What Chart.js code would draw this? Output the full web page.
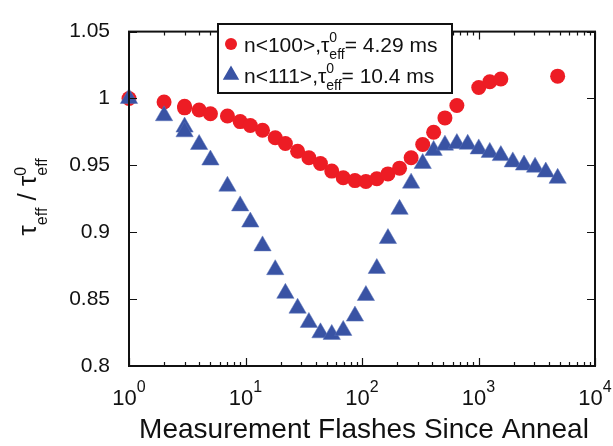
<!DOCTYPE html>
<html>
<head>
<meta charset="utf-8">
<script src="https://cdn.jsdelivr.net/npm/chart.js@4/dist/chart.umd.min.js"></script>
<style>
  html, body { margin: 0; padding: 0; background: #fff; }
</style>
</head>
<body>
<canvas id="chart" width="613" height="446"></canvas>
<script>
// n<100> sample (red circles)
var flashes100 = [1, 2, 3, 3, 4, 5, 7, 9, 11, 14, 18, 22, 28, 35, 44, 55, 69, 87, 108, 134, 167, 210, 264, 332, 412, 515, 652, 1005, 1250, 1555, 4780];
var tau100 = [1.000, 0.9974, 0.9942, 0.9930, 0.9914, 0.9886, 0.9869, 0.9827, 0.9798, 0.9763, 0.9706, 0.9663, 0.9606, 0.9557, 0.9514, 0.9457, 0.9407, 0.9386, 0.9379, 0.9400, 0.9436, 0.9479, 0.9557, 0.9656, 0.9748, 0.9855, 0.9947, 1.0082, 1.0125, 1.0146, 1.0167];

// n<111> sample (blue triangles)
var flashes111 = [1, 2, 3, 3, 4, 5, 7, 9, 11, 14, 18, 22, 28, 35, 44, 55, 69, 87, 108, 134, 167, 210, 264, 332, 412, 515, 652, 808, 1005, 1250, 1555, 1970, 2460, 3060, 3780, 4780];
var tau111 = [1.000, 0.9871, 0.9786, 0.9751, 0.9656, 0.9540, 0.9344, 0.9197, 0.9076, 0.8898, 0.8720, 0.8543, 0.8432, 0.8326, 0.8248, 0.8236, 0.8266, 0.8373, 0.8527, 0.8729, 0.8953, 0.9171, 0.9367, 0.9514, 0.9612, 0.9651, 0.9663, 0.9658, 0.9623, 0.9597, 0.9573, 0.9526, 0.9502, 0.9486, 0.9450, 0.9403];

var xDecades = [0, 1, 2, 3, 4];              // 10^0 .. 10^4
var yTicks = [0.8, 0.85, 0.9, 0.95, 1, 1.05];
var yTickLabels = ['0.8', '0.85', '0.9', '0.95', '1', '1.05'];

var legendLabels = [
  { name: 'n<100>,', value: '= 4.29 ms' },
  { name: 'n<111>,', value: '= 10.4 ms' }
];

var FONT = '"Liberation Sans", Arial, Helvetica, sans-serif';
var RED = '#ED1C24';
var BLUE = '#3953A4';

function toPoints(xs, ys) {
  var pts = [];
  for (let i = 0; i < xs.length; i++) pts.push({ x: xs[i], y: ys[i] });
  return pts;
}

// draws text pieces with sub/superscripts, returns end x
function drawRich(ctx, segs, x, y) {
  segs.forEach(function (s) {
    ctx.font = s.size + 'px ' + FONT;
    ctx.fillText(s.text, x, y + (s.dy || 0));
    if (!s.stack) x += ctx.measureText(s.text).width;
  });
  return x;
}

function richWidth(ctx, segs) {
  var w = 0;
  segs.forEach(function (s) {
    ctx.font = s.size + 'px ' + FONT;
    if (!s.stack) w += ctx.measureText(s.text).width;
  });
  return w;
}

var frame = {
  id: 'frame',
  afterDraw: function (chart) {
    var ctx = chart.ctx;
    var a = chart.chartArea;
    var xs = chart.scales.x, ys = chart.scales.y;
    ctx.save();
    ctx.strokeStyle = '#111';
    ctx.fillStyle = '#111';

    // box
    ctx.lineWidth = 2;
    ctx.strokeRect(a.left, a.top, a.right - a.left, a.bottom - a.top);

    // inward ticks
    ctx.lineWidth = 1.2;
    ctx.beginPath();
    xDecades.forEach(function (d) {
      for (let m = 1; m <= 9; m++) {
        if (d === 4 && m > 1) break;
        var px = Math.round(xs.getPixelForValue(m * Math.pow(10, d))) + 0.5;
        var len = m === 1 ? 8 : 4;
        ctx.moveTo(px, a.bottom); ctx.lineTo(px, a.bottom - len);
        ctx.moveTo(px, a.top); ctx.lineTo(px, a.top + len);
      }
    });
    yTicks.forEach(function (v) {
      var py = Math.round(ys.getPixelForValue(v)) + 0.5;
      ctx.moveTo(a.left, py); ctx.lineTo(a.left + 8, py);
      ctx.moveTo(a.right, py); ctx.lineTo(a.right - 8, py);
    });
    ctx.stroke();

    // x tick labels 10^n
    ctx.textAlign = 'left';
    ctx.textBaseline = 'alphabetic';
    xDecades.forEach(function (d) {
      var segs = [{ text: '10', size: 22 }, { text: String(d), size: 16, dy: -13 }];
      var w = richWidth(ctx, segs);
      var px = xs.getPixelForValue(Math.pow(10, d));
      drawRich(ctx, segs, px - w / 2, 405);
    });

    // x title
    ctx.font = '28px ' + FONT;
    ctx.textAlign = 'center';
    ctx.fillText('Measurement Flashes Since Anneal', (a.left + a.right) / 2 + 2, 438);

    // y title, rotated
    ctx.textAlign = 'left';
    var ySegs = [
      { text: '\u03C4', size: 26 },
      { text: 'eff', size: 16, dy: 11 },
      { text: ' / ', size: 26 },
      { text: '\u03C4', size: 26 },
      { text: '0', size: 16, dy: -10, stack: true },
      { text: 'eff', size: 16, dy: 11 }
    ];
    var yw = richWidth(ctx, ySegs);
    ctx.save();
    ctx.translate(36, (a.top + a.bottom) / 2 - 2);
    ctx.rotate(-Math.PI / 2);
    drawRich(ctx, ySegs, -yw / 2, 0);
    ctx.restore();

    // legend
    var lx = 218, ly = 24, lw = 234, lh = 69;
    ctx.fillStyle = '#fff';
    ctx.fillRect(lx, ly, lw, lh);
    ctx.lineWidth = 2;
    ctx.strokeRect(lx, ly, lw, lh);
    ctx.fillStyle = RED;
    ctx.beginPath();
    ctx.arc(231, 44, 6, 0, Math.PI * 2);
    ctx.fill();
    ctx.fillStyle = BLUE;
    ctx.strokeStyle = BLUE;
    Chart.helpers.drawPoint(ctx, { pointStyle: 'triangle', radius: 7.5, borderWidth: 0.5 }, 231, 75);
    ctx.fillStyle = '#111';
    legendLabels.forEach(function (l, i) {
      drawRich(ctx, [
        { text: l.name, size: 21 },
        { text: '\u03C4', size: 21 },
        { text: '0', size: 14, dy: -10, stack: true },
        { text: 'eff', size: 14, dy: 7 },
        { text: l.value, size: 21 }
      ], 244, 52 + i * 31);
    });
    ctx.restore();
  }
};

new Chart(document.getElementById('chart'), {
  type: 'scatter',
  data: {
    datasets: [
      {
        label: 'n<100>',
        data: toPoints(flashes100, tau100),
        pointStyle: 'circle',
        pointRadius: 7.5,
        pointBackgroundColor: RED,
        pointBorderWidth: 0,
        clip: false,
        order: 2
      },
      {
        label: 'n<111>',
        data: toPoints(flashes111, tau111),
        pointStyle: 'triangle',
        pointRadius: 10,
        pointBackgroundColor: BLUE,
        pointBorderColor: '#5a72b8',
        pointBorderWidth: 0.5,
        clip: false,
        order: 1
      }
    ]
  },
  options: {
    responsive: false,
    animation: false,
    devicePixelRatio: 1,
    layout: { padding: { left: 0, right: 18, top: 14, bottom: 0 } },
    plugins: { legend: { display: false }, tooltip: { enabled: false } },
    scales: {
      x: {
        type: 'logarithmic',
        min: 1,
        max: 10000,
        grid: { display: false, drawTicks: false },
        border: { display: false },
        ticks: { display: false },
        afterFit: function (scale) { scale.height = 80; }
      },
      y: {
        type: 'linear',
        min: 0.8,
        max: 1.05,
        grid: { display: false, drawTicks: false },
        border: { display: false },
        afterBuildTicks: function (scale) {
          scale.ticks = yTicks.map(function (v) { return { value: v }; });
        },
        ticks: {
          padding: 19,
          color: '#111',
          font: { family: FONT, size: 21 },
          callback: function (v) {
            var i = yTicks.findIndex(function (t) { return Math.abs(t - v) < 1e-6; });
            return i >= 0 ? yTickLabels[i] : '';
          }
        },
        afterFit: function (scale) { scale.width = 129; }
      }
    }
  },
  plugins: [frame]
});
</script>
</body>
</html>
